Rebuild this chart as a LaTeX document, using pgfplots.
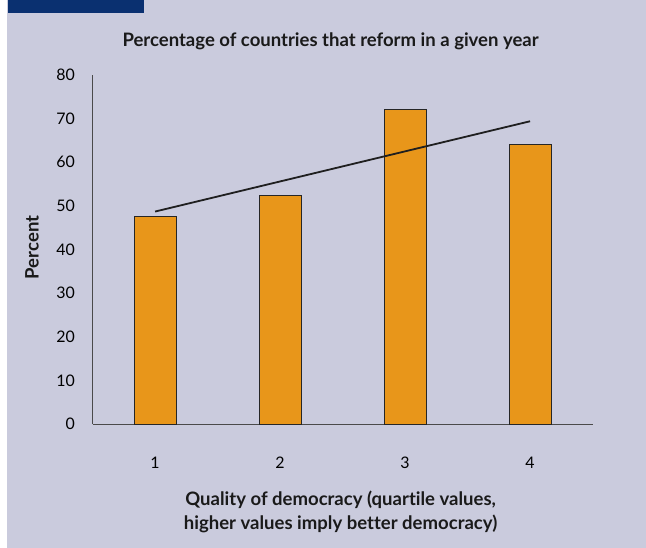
\documentclass[border=0pt]{standalone}
\usepackage{pgfplots}
\pgfplotsset{compat=1.18}
\usepackage{fontspec}
\setmainfont{Lato}[Ligatures={NoCommon}]
\definecolor{bg}{HTML}{CACBDD}
\definecolor{navy}{HTML}{0A3070}
\definecolor{barfill}{HTML}{E8961A}
\definecolor{axisgray}{HTML}{4A4A4A}
\definecolor{txt}{HTML}{1A1A1A}
\begin{document}
\begin{tikzpicture}[x=1bp,y=1bp]
\path[use as bounding box] (0,0) rectangle (646,-548);
\fill[white] (0,0) rectangle (646,-548);
\fill[bg] (7,0) rectangle (646,-548);
\fill[navy] (8,0) rectangle (144,-12.7);
\begin{axis}[
  at={(92.6bp,-424bp)}, anchor=south west,
  scale only axis, width=500bp, height=349bp,
  xmin=0.5, xmax=4.5, ymin=0, ymax=80,
  axis x line*=bottom, axis y line*=left,
  axis line style={axisgray, line width=0.9bp, -},
  xtick={1,2,3,4}, ytick={0,10,...,80},
  major tick length=0pt,
  tick label style={font=\fontsize{16}{19}\selectfont, text=black, inner sep=0pt},
  /pgf/number format/assume math mode=true,
  xticklabel style={anchor=north, yshift=-32.5bp},
  yticklabel style={anchor=east, xshift=-17.5bp},
  title={Percentage of countries that reform in a given year},
  title style={font=\bfseries\fontsize{18.6}{22}\selectfont, text=txt, inner sep=0pt, anchor=base, at={(axis description cs:0.476,1)}, yshift=23bp},
  ylabel={Percent},
  ylabel style={font=\bfseries\fontsize{18.6}{22}\selectfont, text=txt, inner sep=0pt, anchor=center, at={(axis description cs:-0.1212,0.506)}},
  xlabel={Quality of democracy (quartile values,\\higher values imply better democracy)},
  xlabel style={font=\bfseries\fontsize{18.6}{24.2}\selectfont, text=txt, inner sep=0pt, align=center, anchor=north, at={(axis description cs:0.496,0)}, yshift=-67bp},
  clip=false,
]
\addplot[ybar, bar width=0.336, fill=barfill, draw=black!85, line width=0.7bp]
  coordinates {(1,47.5) (2,52.3) (3,72.2) (4,64.1)};
\addplot[black!88, line width=1.8bp]
  coordinates {(1,48.7) (4,69.4)};
\end{axis}
\end{tikzpicture}
\end{document}
